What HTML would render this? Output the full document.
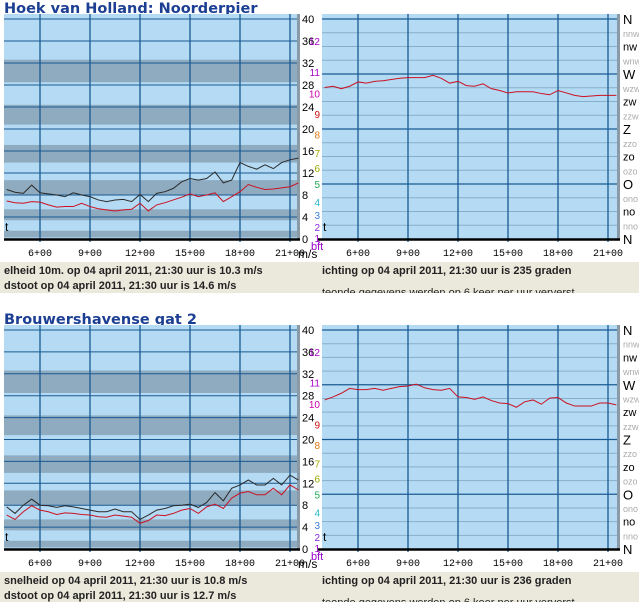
<!DOCTYPE html>
<html><head><meta charset="utf-8">
<style>
html,body{margin:0;padding:0;background:#fff;}
svg{display:block;font-family:"Liberation Sans",sans-serif;}
</style></head>
<body>
<svg id="root" width="639" height="602" viewBox="0 0 639 602" xmlns="http://www.w3.org/2000/svg"></svg>
<script>
// ---- data (half-hourly, 04:00 .. 21:30) ----
const hours = [4,4.5,5,5.5,6,6.5,7,7.5,8,8.5,9,9.5,10,10.5,11,11.5,12,12.5,13,13.5,14,14.5,15,15.5,16,16.5,17,17.5,18,18.5,19,19.5,20,20.5,21,21.5];
const hvhSpeed = [6.9,6.6,6.5,6.8,6.7,6.2,5.8,5.9,5.9,6.5,5.9,5.5,5.3,5.1,5.3,5.4,6.5,5.1,6.2,6.6,7.1,7.6,8.2,7.7,8.0,8.4,6.8,7.7,8.6,9.9,9.4,9.0,9.1,9.3,9.5,10.2];
const hvhGust  = [9.0,8.5,8.3,9.8,8.4,8.2,8.0,7.7,8.4,8.0,7.7,7.1,6.8,7.1,7.2,6.8,8.1,6.8,8.3,8.6,9.2,10.4,11.0,10.7,11.0,12.2,10.2,10.7,13.9,13.2,12.7,13.5,12.8,13.9,14.4,14.7];
const hvhDir   = [248,250,246,250,257,255,258,259,261,263,264,264,264,268,263,255,258,251,250,254,246,243,239,241,241,241,238,236,243,239,235,233,234,235,235,235];
const bhgSpeed = [6.2,5.4,6.8,7.9,7.1,6.8,6.3,6.6,6.5,6.3,6.2,5.9,5.8,6.2,6.0,5.8,4.7,5.2,6.2,6.1,6.5,7.1,7.4,6.5,7.7,8.2,7.4,9.3,10.2,10.5,9.9,9.9,11.1,9.9,11.7,10.8];
const bhgGust  = [7.7,6.5,8.0,9.1,8.0,7.9,7.6,7.9,7.7,7.4,7.1,6.8,6.8,7.3,6.8,6.8,5.4,6.2,7.1,7.4,7.9,8.0,8.2,7.6,8.5,10.3,8.8,11.1,11.7,12.6,11.7,11.7,12.9,11.7,13.5,12.6];
const bhgDir   = [245,250,256,264,262,262,264,261,264,267,268,271,265,262,261,264,250,249,246,250,244,240,239,233,242,245,238,248,249,240,235,235,235,240,240,237];
const timeTicks = [6,9,12,15,18,21];
const timeLabels = ["6+00","9+00","12+00","15+00","18+00","21+00"];
const speedTicks = [0,4,8,12,16,20,24,28,32,36,40];
const bftLabels = ["1","2","3","4","5","6","7","8","9","10","11","12"];
const bftLabelVals = [0.2,2.2,4.4,6.7,10,12.9,15.6,19,22.7,26.5,30.4,36];
const bftColors = ["#9900cc","#8a2be2","#3a7fd5","#22b8c8","#22aa55","#99aa00","#aaaa00","#dd7711","#cc1111","#cc00aa","#aa00cc","#aa00cc"];
const bftBands = [[0.3,1.5],[3.4,5.4],[8,10.7],[13.9,17.1],[20.8,24.4],[28.5,32.6]];
const compass = ["N","nno","no","ono","O","ozo","zo","zzo","Z","zzw","zw","wzw","W","wnw","nw","nnw","N"];

const NS="http://www.w3.org/2000/svg";
const root=document.getElementById('root');
function mk(tag,attrs,parent){const e=document.createElementNS(NS,tag);for(const k in attrs)e.setAttribute(k,attrs[k]);(parent||root).appendChild(e);return e;}
function txt(s,attrs,parent){const e=mk('text',attrs,parent);e.textContent=s;return e;}

function panel(p){
  const g=mk('g',{});
  
  
  const yv=v=>p.yb-(v/40)*(p.yb-p.y40);
  const yd=d=>p.yb-(d/360)*(p.yb-p.y40);
  const xl=h=>40+(h-6)*50/3;
  const xr=h=>358+(h-6)*50/3;
  // title
  const t=txt(p.title,{x:4,y:p.top-1,'font-size':14.5,'font-weight':'bold',fill:'#1c3f94','font-family':'"DejaVu Sans",sans-serif'},g);
  
  
  // ---- left speed chart ----
  const lg=mk('g',{},g);
  
  
  mk('rect',{x:4,y:p.top,width:293,height:p.yb-p.top,fill:'#b4dbf3'},lg);
  bftBands.forEach(b=>{
    const r=mk('rect',{x:4,y:yv(b[1]),width:293,height:yv(b[0])-yv(b[1]),fill:'#8fabbf'},lg);
    
    
  });
  speedTicks.forEach(v=>{ if(v>0) mk('line',{x1:4,x2:300,y1:yv(v),y2:yv(v),stroke:'#1a5a92','stroke-width':1},lg); });
  timeTicks.forEach(h=>mk('line',{x1:xl(h),x2:xl(h),y1:p.top,y2:p.yb+3,stroke:'#1a5a92','stroke-width':1.3},lg));
  mk('rect',{x:297,y:p.top,width:3,height:p.yb-p.top,fill:'#8a9aa6'},lg);
  mk('line',{x1:4,x2:300,y1:p.yb+0.5,y2:p.yb+0.5,stroke:'#000','stroke-width':2.5},lg);
  mk('line',{x1:318,x2:322,y1:p.yb+0.5,y2:p.yb+0.5,stroke:'#000','stroke-width':2.5},lg);
  txt('t',{x:5,y:yv(1.5),'font-size':12,fill:'#000'},lg);
  const gust=mk('polyline',{points:hours.map((h,i)=>xl(h)+','+yv(p.gust[i])).join(' '),fill:'none',stroke:'#2a2a2a','stroke-width':1},lg);
  
  
  const sp=mk('polyline',{points:hours.map((h,i)=>xl(h)+','+yv(p.speed[i])).join(' '),fill:'none',stroke:'#cc1122','stroke-width':1},lg);
  
  
  speedTicks.forEach(v=>txt(String(v),{x:302,y:yv(v)+4,'font-size':11,fill:'#000'},lg));
  bftLabels.forEach((s,i)=>txt(s,{x:320,y:yv(bftLabelVals[i])+4,'font-size':10,fill:bftColors[i],'text-anchor':'end'},lg));
  txt('bft',{x:311,y:p.yb+11,'font-size':11,fill:'#9900cc'},lg);
  txt('m/s',{x:298,y:p.yb+19,'font-size':12,fill:'#000'},lg);
  timeTicks.forEach((h,i)=>txt(timeLabels[i],{x:xl(h),y:p.yb+17,'font-size':10,fill:'#000','text-anchor':'middle','font-family':'"Liberation Mono",monospace'},lg));
  // ---- right direction chart ----
  const rg=mk('g',{},g);
  
  
  mk('rect',{x:322,y:p.top,width:295,height:p.yb-p.top,fill:'#b4dbf3'},rg);
  compass.forEach((c,i)=>{ if(i>0&&i<16){ const major=i%4===0; mk('line',{x1:322,x2:620,y1:yd(i*22.5),y2:yd(i*22.5),stroke:major?'#1a5a92':'#86afcc','stroke-width':major?1.3:1},rg);} });
  mk('line',{x1:322,x2:620,y1:yd(360),y2:yd(360),stroke:'#1a5a92','stroke-width':1.3},rg);
  timeTicks.forEach(h=>mk('line',{x1:xr(h),x2:xr(h),y1:p.top,y2:p.yb+3,stroke:'#1a5a92','stroke-width':1.3},rg));
  mk('rect',{x:617,y:p.top,width:3,height:p.yb-p.top,fill:'#8a9aa6'},rg);
  mk('line',{x1:322,x2:620,y1:p.yb+0.5,y2:p.yb+0.5,stroke:'#000','stroke-width':2.5},rg);
  txt('t',{x:323,y:yv(1.5),'font-size':12,fill:'#000'},rg);
  const dl=mk('polyline',{points:hours.map((h,i)=>xr(h)+','+yd(p.dir[i])).join(' '),fill:'none',stroke:'#cc1122','stroke-width':1},rg);
  
  
  compass.forEach((c,i)=>{
    const major=i%4===0, mid=i%2===0;
    txt(c,{x:623,y:yd(i*22.5)+(major?5:4),'font-size':major?13:(mid?11:9),fill:mid?'#000':'#aaa'},rg);
  });
  timeTicks.forEach((h,i)=>txt(timeLabels[i],{x:xr(h),y:p.yb+17,'font-size':10,fill:'#000','text-anchor':'middle','font-family':'"Liberation Mono",monospace'},rg));
  // ---- info text ----
  const ig=mk('g',{},g);
  
  
  mk('rect',{x:0,y:p.yb+23,width:639,height:31,fill:'#ebe8dc'},ig);
  const cp=mk('clipPath',{id:'cp'+p.top},ig);
  mk('rect',{x:0,y:p.yb+23,width:639,height:31},cp);
  const tg=mk('g',{'clip-path':'url(#cp'+p.top+')','font-size':11,'font-weight':'bold',fill:'#222'},ig);
  txt(p.l1,{x:4,y:p.yb+35},tg);
  txt(p.l2,{x:4,y:p.yb+50},tg);
  txt(p.r1,{x:322,y:p.yb+35},tg);
  txt('teonde gegevens werden op  6 keer per uur ververst',{x:322,y:p.yb+57,'font-weight':'normal'},tg);
}

panel({name:'hoek-van-holland-panel',title:'Hoek van Holland: Noorderpier',top:14,y40:19,yb:239,
  speed:hvhSpeed,gust:hvhGust,dir:hvhDir,
  l1:'elheid 10m. op 04 april 2011, 21:30 uur is 10.3 m/s',
  l2:'dstoot op 04 april 2011, 21:30 uur is 14.6 m/s',
  r1:'ichting op 04 april 2011, 21:30 uur is 235 graden'});
panel({name:'brouwershavense-gat-panel',title:'Brouwershavense gat 2',top:325,y40:330,yb:549,
  speed:bhgSpeed,gust:bhgGust,dir:bhgDir,
  l1:'snelheid op 04 april 2011, 21:30 uur is 10.8 m/s',
  l2:'dstoot op 04 april 2011, 21:30 uur is 12.7 m/s',
  r1:'ichting op 04 april 2011, 21:30 uur is 236 graden'});
</script>
</body></html>
